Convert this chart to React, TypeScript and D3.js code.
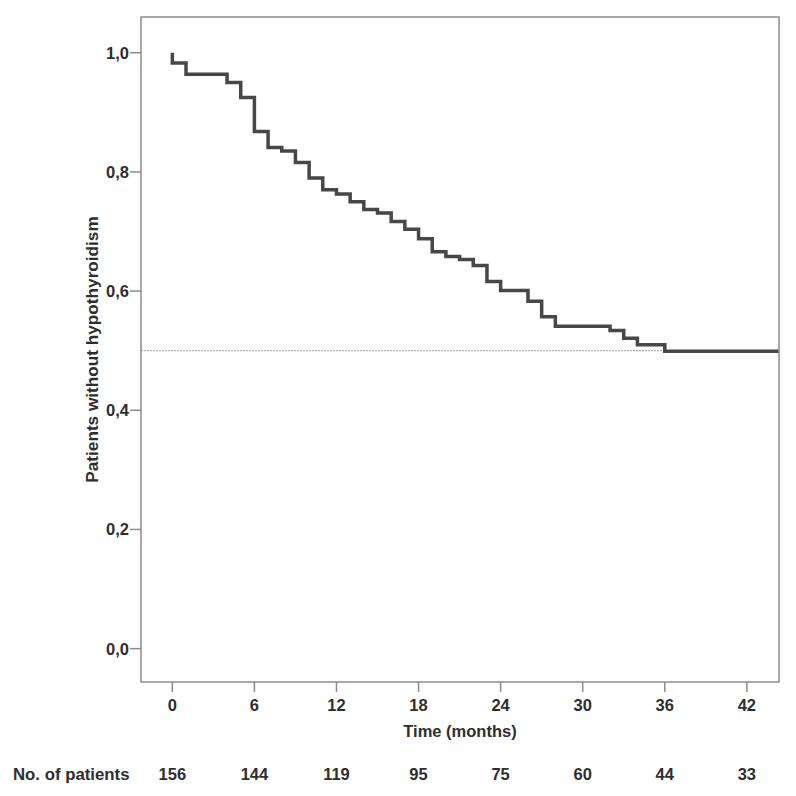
import React from "react";
import * as d3 from "d3";

const eventTimes = [0, 0, 1, 4, 5, 6, 7, 8, 9, 10, 11, 12, 13, 14, 15, 16, 17, 18, 19, 20, 21, 22, 23, 24, 26, 27, 28, 32, 33, 34, 36];
const survival = [1.0, 0.983, 0.964, 0.95, 0.925, 0.868, 0.841, 0.835, 0.816, 0.79, 0.77, 0.763, 0.75, 0.737, 0.731, 0.717, 0.704, 0.688, 0.666, 0.658, 0.653, 0.643, 0.616, 0.601, 0.583, 0.557, 0.541, 0.534, 0.521, 0.51, 0.499];
const xTicks = [0, 6, 12, 18, 24, 30, 36, 42];
const yTicks = [0, 0.2, 0.4, 0.6, 0.8, 1.0];
const atRisk = [156, 144, 119, 95, 75, 60, 44, 33];
const medianLine = 0.5;

const W = 796, H = 796;
const L = 141, R = 779, T = 17, B = 682;
const FONT = "'Liberation Sans', Arial, sans-serif";
const TXT = "#2e2e2e";

export default function App() {
  const x = d3.scaleLinear().domain([-2.29, 44.35]).range([L, R]);
  const y = d3.scaleLinear().domain([-0.056, 1.06]).range([B, T]);
  const pts: [number, number][] = eventTimes.map((t, i) => [t, survival[i]]);
  pts.push([x.domain()[1], survival[survival.length - 1]]);
  const line = d3.line<[number, number]>().x(d => x(d[0])).y(d => y(d[1])).curve(d3.curveStepAfter);
  const fmt = (v: number) => v.toFixed(1).replace(".", ",");
  return (
    <svg width={W} height={H} style={{ position: "absolute", left: 0, top: 0 }} fontFamily={FONT}>
      <rect x={0} y={0} width={W} height={H} fill="#fff" />
      <line x1={L} x2={R} y1={y(medianLine)} y2={y(medianLine)} stroke="#9a9a9a" strokeWidth={1} strokeDasharray="2,1" />
      <path d={line(pts) || ""} fill="none" stroke="#474747" strokeWidth={3.5} strokeLinejoin="miter" />
      <rect x={L} y={T} width={R - L} height={B - T} fill="none" stroke="#8c8c8c" strokeWidth={1.5} />
      {yTicks.map(v => (
        <g key={v}>
          <line x1={L - 11} x2={L} y1={y(v)} y2={y(v)} stroke="#8c8c8c" strokeWidth={1.5} />
          <text x={L - 12} y={y(v)} dy="0.36em" textAnchor="end" fontSize={16.5} fontWeight="bold" fill={TXT}>{fmt(v)}</text>
        </g>
      ))}
      {xTicks.map(v => (
        <g key={v}>
          <line x1={x(v)} x2={x(v)} y1={B} y2={B + 10} stroke="#8c8c8c" strokeWidth={1.5} />
          <text x={x(v)} y={711} textAnchor="middle" fontSize={16.5} fontWeight="bold" fill={TXT}>{v}</text>
        </g>
      ))}
      <text x={(L + R) / 2} y={737} textAnchor="middle" fontSize={16.5} fontWeight="bold" fill={TXT}>Time (months)</text>
      <text transform={`translate(98,${(T + B) / 2}) rotate(-90)`} textAnchor="middle" fontSize={17.2} fontWeight="bold" fill={TXT}>Patients without hypothyroidism</text>
      <text x={13} y={780} fontSize={16.8} fontWeight="bold" fill={TXT}>No. of patients</text>
      {atRisk.map((n, i) => (
        <text key={i} x={x(xTicks[i])} y={780} textAnchor="middle" fontSize={16.5} fontWeight="bold" fill={TXT}>{n}</text>
      ))}
    </svg>
  );
}
